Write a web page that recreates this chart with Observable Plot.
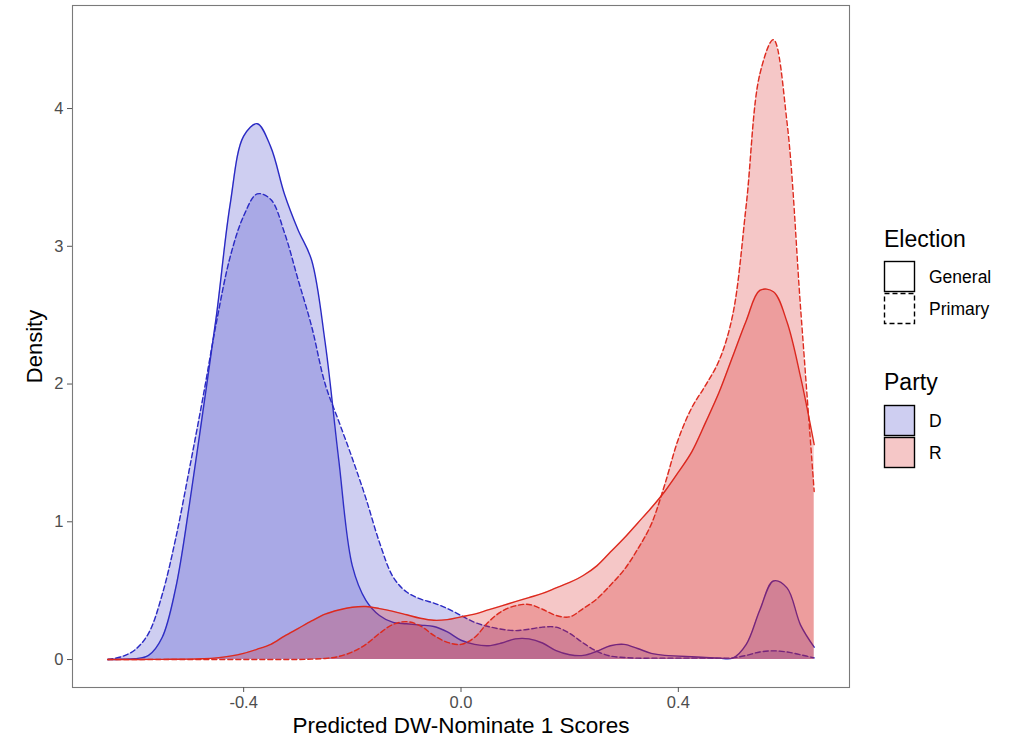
<!DOCTYPE html>
<html>
<head>
<meta charset="utf-8">
<script src="https://cdn.jsdelivr.net/npm/d3@7"></script>
<script src="https://cdn.jsdelivr.net/npm/@observablehq/plot@0.6"></script>
<style>
  html, body { margin: 0; padding: 0; background: #fff; }
  body { width: 1012px; height: 744px; position: relative; overflow: hidden; font-family: "Liberation Sans", Arial, sans-serif; }
  #chart { position: absolute; left: 0; top: 0; }
  #legend { position: absolute; left: 0; top: 0; }
</style>
</head>
<body>
<div id="chart"></div>
<div id="legend"></div>
<script>
// Grid of predicted DW-Nominate 1 scores (x positions of density estimates)
const scoreGrid = [-0.65, -0.625, -0.6, -0.575, -0.55, -0.525, -0.5, -0.475, -0.45, -0.425,
  -0.4, -0.375, -0.35, -0.325, -0.3, -0.275, -0.25, -0.225, -0.2, -0.175,
  -0.15, -0.125, -0.1, -0.075, -0.05, -0.025, 0, 0.025, 0.05, 0.075,
  0.1, 0.125, 0.15, 0.175, 0.2, 0.225, 0.25, 0.275, 0.3, 0.325,
  0.35, 0.375, 0.4, 0.425, 0.45, 0.475, 0.5, 0.525, 0.55, 0.575,
  0.6, 0.625, 0.65];

// Density values
const densityDGeneral = [0, 0.002, 0.006, 0.03, 0.16, 0.52, 1.12, 1.8, 2.5, 3.3,
  3.8, 3.89, 3.72, 3.38, 3.12, 2.9, 2.3, 1.45, 0.68, 0.43,
  0.32, 0.27, 0.26, 0.25, 0.24, 0.2, 0.14, 0.11, 0.1, 0.12,
  0.15, 0.15, 0.12, 0.065, 0.035, 0.03, 0.06, 0.1, 0.11, 0.08,
  0.045, 0.03, 0.025, 0.02, 0.015, 0.01, 0.01, 0.11, 0.36, 0.57,
  0.52, 0.25, 0.09];

const densityDPrimary = [0, 0.02, 0.07, 0.19, 0.47, 0.88, 1.38, 1.9, 2.45, 2.92,
  3.22, 3.38, 3.34, 3.1, 2.76, 2.42, 2.0, 1.73, 1.46, 1.17,
  0.85, 0.6, 0.49, 0.44, 0.41, 0.37, 0.32, 0.27, 0.24, 0.22,
  0.21, 0.22, 0.235, 0.235, 0.19, 0.12, 0.06, 0.025, 0.015, 0.01,
  0.01, 0.01, 0.01, 0.01, 0.01, 0.01, 0.012, 0.03, 0.055, 0.063,
  0.055, 0.035, 0.012];

const densityRGeneral = [0, 0, 0, 0.001, 0.001, 0.002, 0.003, 0.006, 0.012, 0.025,
  0.045, 0.075, 0.11, 0.17, 0.225, 0.28, 0.33, 0.36, 0.38, 0.385,
  0.37, 0.35, 0.325, 0.3, 0.285, 0.29, 0.31, 0.33, 0.36, 0.39,
  0.42, 0.45, 0.48, 0.52, 0.56, 0.61, 0.68, 0.78, 0.88, 0.99,
  1.1, 1.22, 1.36, 1.51, 1.72, 1.94, 2.2, 2.46, 2.68, 2.67,
  2.45, 2.05, 1.56];

const densityRPrimary = [0, 0, 0, 0, 0, 0, 0, 0, 0, 0,
  0, 0, 0, 0, 0, 0.003, 0.008, 0.022, 0.055, 0.11,
  0.19, 0.255, 0.275, 0.245, 0.175, 0.125, 0.11, 0.16, 0.27, 0.35,
  0.39, 0.4, 0.365, 0.32, 0.31, 0.37, 0.44, 0.54, 0.65, 0.8,
  0.98, 1.27, 1.6, 1.83, 1.99, 2.17, 2.5, 3.3, 4.25, 4.5,
  3.9, 2.55, 1.22];

const parties = ["D", "R"];
const elections = ["General", "Primary"];
const xTicks = [-0.4, 0.0, 0.4];
const yTicks = [0, 1, 2, 3, 4];

// Build long table
const series = [
  {party: "D", election: "General", values: densityDGeneral},
  {party: "D", election: "Primary", values: densityDPrimary},
  {party: "R", election: "General", values: densityRGeneral},
  {party: "R", election: "Primary", values: densityRPrimary}
];
const rows = series.flatMap(s => scoreGrid.map((x, i) => ({score: x, density: s.values[i], party: s.party, election: s.election})));

const fillColor = {D: "#3c3cc8", R: "#d82020"};
const lineColor = {D: "#2a2ac4", R: "#dd2a1e"};
const dash = {General: null, Primary: "5,3"};

const groupMarks = series.flatMap(s => {
  const data = rows.filter(d => d.party === s.party && d.election === s.election);
  return [
    Plot.areaY(data, {x: "score", y: "density", fill: fillColor[s.party], fillOpacity: 0.25, curve: "catmull-rom"}),
    Plot.lineY(data, {x: "score", y: "density", stroke: lineColor[s.party], strokeWidth: 1.4, strokeDasharray: dash[s.election], curve: "catmull-rom"})
  ];
});

const chart = Plot.plot({
  width: 852,
  height: 744,
  marginLeft: 72,
  marginRight: 3,
  marginTop: 5,
  marginBottom: 57,
  style: {fontFamily: "Liberation Sans, Arial, sans-serif", background: "#fff"},
  x: {domain: [-0.715, 0.715]},
  y: {domain: [-0.203, 4.748]},
  marks: [
    ...groupMarks,
    Plot.frame({stroke: "#7a7a7a", strokeWidth: 1.1}),
    Plot.axisX(xTicks, {tickSize: 5, tickPadding: 4, fontSize: 16.5, tickFormat: d => d.toFixed(1), label: null, color: "#4d4d4d", stroke: "#555"}),
    Plot.axisY(yTicks, {tickSize: 5, tickPadding: 4, fontSize: 16.5, tickFormat: d => String(d), label: null, color: "#4d4d4d", stroke: "#555"}),
    Plot.text(["Predicted DW-Nominate 1 Scores"], {frameAnchor: "bottom", dy: 45, fontSize: 22.5, fill: "#000", textAnchor: "middle"}),
    Plot.text(["Density"], {frameAnchor: "left", dx: -38, rotate: -90, fontSize: 22, fill: "#000", textAnchor: "middle"})
  ]
});
document.getElementById("chart").appendChild(chart);

// Legend (outside the plot area, on the right)
const lg = d3.select("#legend").append("svg")
  .attr("width", 1012).attr("height", 744)
  .style("font-family", "Liberation Sans, Arial, sans-serif");
const lx = 884, box = 31;
lg.append("text").attr("x", lx).attr("y", 247).attr("font-size", 23).text("Election");
elections.forEach((e, i) => {
  const y0 = 261 + i * (box + 1);
  lg.append("rect").attr("x", lx + 0.5).attr("y", y0 + 0.5).attr("width", box - 1).attr("height", box - 1)
    .attr("fill", "#fff").attr("stroke", "#000").attr("stroke-width", 1.4)
    .attr("stroke-dasharray", dash[e]);
  lg.append("text").attr("x", 929).attr("y", y0 + box / 2).attr("dy", "0.35em").attr("font-size", 17.5).text(e);
});
lg.append("text").attr("x", lx).attr("y", 390).attr("font-size", 23).text("Party");
parties.forEach((p, i) => {
  const y0 = 405 + i * (box + 1);
  lg.append("rect").attr("x", lx + 0.5).attr("y", y0 + 0.5).attr("width", box - 1).attr("height", box - 1)
    .attr("fill", fillColor[p]).attr("fill-opacity", 0.25).attr("stroke", "#000").attr("stroke-width", 1.4);
  lg.append("text").attr("x", 929).attr("y", y0 + box / 2).attr("dy", "0.35em").attr("font-size", 17.5).text(p);
});
</script>
</body>
</html>
